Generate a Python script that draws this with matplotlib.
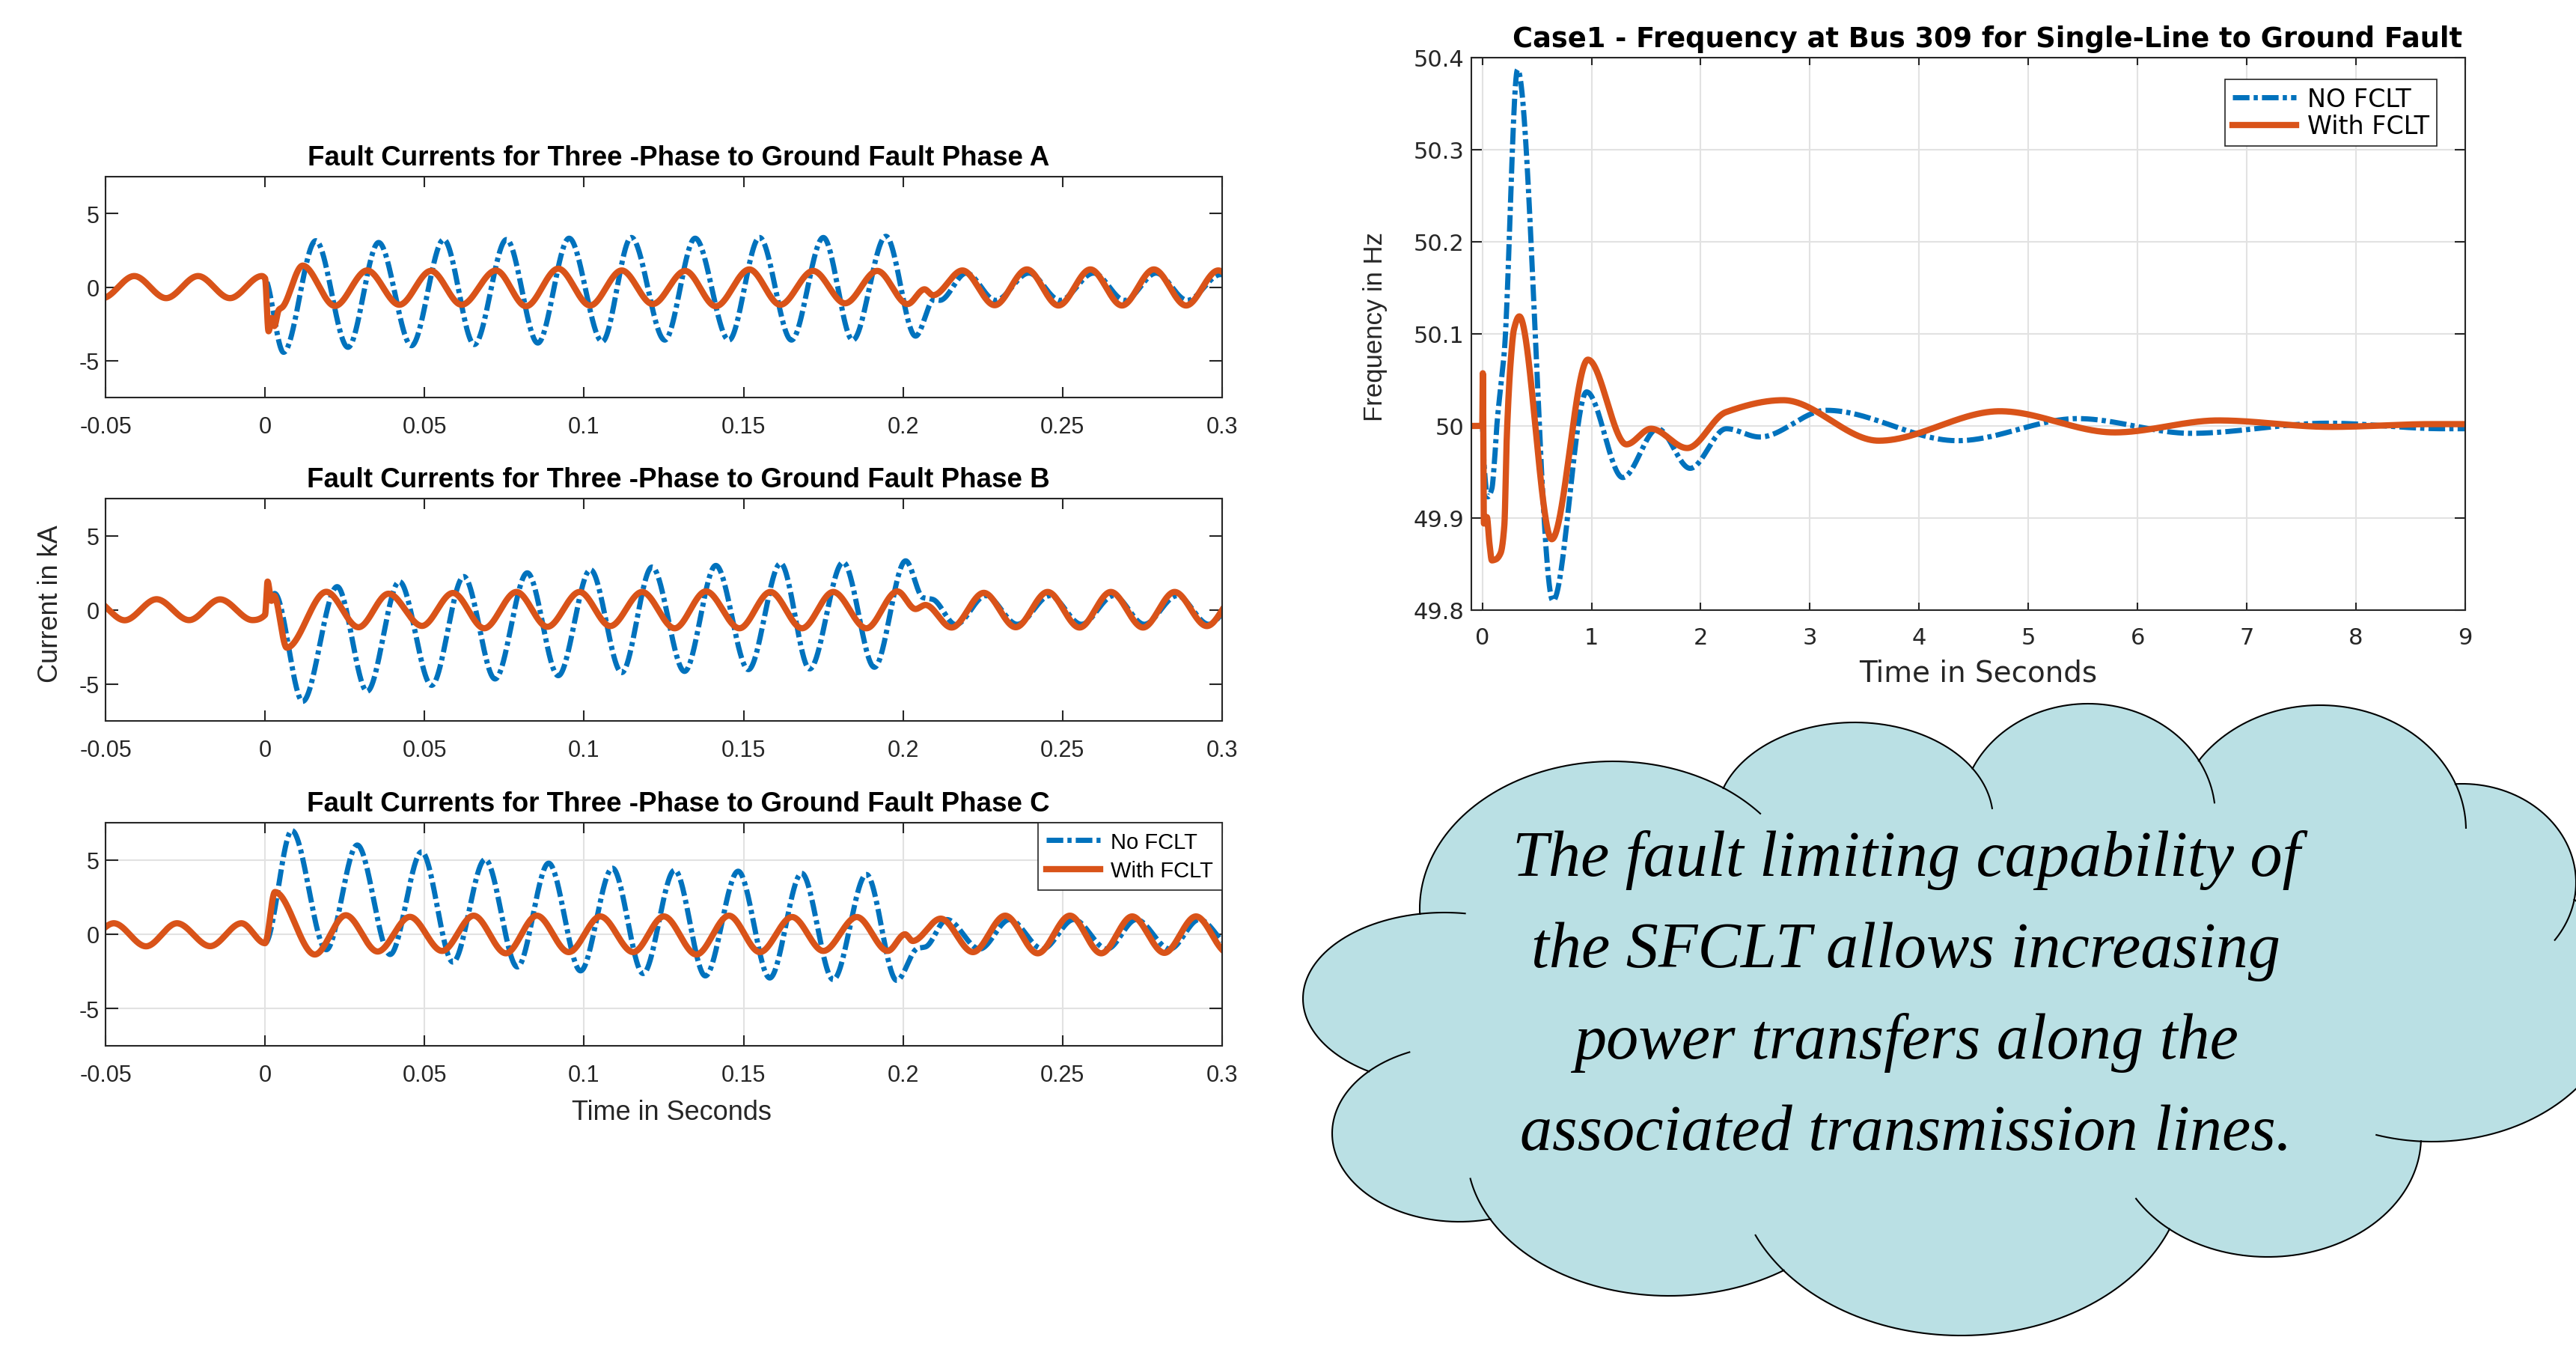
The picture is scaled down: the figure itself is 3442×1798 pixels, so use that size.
import numpy as np
import matplotlib
matplotlib.use("Agg")
import matplotlib.pyplot as plt
from matplotlib.patches import Ellipse

plt.rcParams['font.family'] = ['Liberation Sans', 'DejaVu Sans']
plt.rcParams['axes.unicode_minus'] = False
plt.rcParams['lines.scale_dashes'] = False

# ---- data (turning points of each trace) ----
x_ticks = [-0.05, 0, 0.05, 0.1, 0.15, 0.2, 0.25, 0.3]
x_tick_labels = ["-0.05", "0", "0.05", "0.1", "0.15", "0.2", "0.25", "0.3"]
y_ticks = [-5, 0, 5]
y_tick_labels = ["-5", "0", "5"]

# phase A
pre_a_t = [-0.061, -0.051, -0.041, -0.031, -0.021, -0.011, -0.001]
pre_a_i = [0.75, -0.75, 0.75, -0.75, 0.75, -0.75, 0.75]
no_a_t = [0.0, 0.0058, 0.0159, 0.026, 0.0356, 0.0459, 0.056, 0.0656, 0.0757, 0.0855,
          0.0953, 0.1057, 0.1148, 0.1253, 0.1348, 0.1454, 0.155, 0.165, 0.175, 0.1842,
          0.1946, 0.2039, 0.2097, 0.2115, 0.2198, 0.229, 0.2394, 0.2492, 0.2597, 0.2695,
          0.2793, 0.2891, 0.2995, 0.31]
no_a_i = [0.6, -4.43, 3.15, -4.09, 3.03, -3.98, 3.23, -3.9, 3.23, -3.8,
          3.32, -3.7, 3.37, -3.6, 3.32, -3.6, 3.37, -3.6, 3.37, -3.6,
          3.45, -3.33, -0.85, -0.9, 0.95, -0.9, 0.95, -0.9, 0.95, -0.9,
          0.95, -0.9, 0.85, -0.9]
with_a_t = [0.0, 0.0011, 0.0022, 0.0029, 0.0043, 0.0055, 0.0118, 0.0219, 0.032, 0.0421,
            0.052, 0.0616, 0.0724, 0.0818, 0.0919, 0.1019, 0.1118, 0.1215, 0.1317, 0.1413,
            0.1518, 0.1615, 0.1718, 0.1818, 0.1919, 0.2014, 0.2067, 0.2094, 0.2186, 0.2287,
            0.2388, 0.2487, 0.2587, 0.2686, 0.2786, 0.2887, 0.2988, 0.309]
with_a_i = [0.6, -3.0, -2.1, -2.65, -1.55, -1.35, 1.46, -1.28, 1.13, -1.2,
            1.1, -1.2, 1.13, -1.3, 1.25, -1.25, 1.13, -1.15, 1.1, -1.3,
            1.2, -1.2, 1.1, -1.1, 1.1, -1.15, -0.15, -0.55, 1.13, -1.23,
            1.2, -1.25, 1.2, -1.25, 1.2, -1.25, 1.13, -1.25]

# phase B
pre_b_t = [-0.054, -0.044, -0.034, -0.0238, -0.0141, -0.0039]
pre_b_i = [0.71, -0.71, 0.71, -0.7, 0.7, -0.7]
no_b_t = [0.0, 0.0008, 0.002, 0.003, 0.0118, 0.0226, 0.032, 0.0421, 0.0522, 0.0623,
          0.0721, 0.0822, 0.0919, 0.102, 0.1118, 0.1213, 0.1315, 0.1413, 0.1515, 0.1616,
          0.1707, 0.1812, 0.191, 0.2008, 0.2062, 0.2093, 0.2165, 0.2259, 0.2358, 0.246,
          0.2559, 0.266, 0.2756, 0.2859, 0.2958, 0.3058]
no_b_i = [-0.35, 1.5, 0.9, 1.1, -6.18, 1.56, -5.5, 1.9, -5.1, 2.24,
          -4.67, 2.49, -4.45, 2.7, -4.24, 2.88, -4.16, 2.99, -4.04, 3.13,
          -3.99, 3.2, -3.88, 3.3, 0.82, 0.7, -1.0, 0.95, -0.98, 0.95,
          -0.98, 0.95, -0.98, 0.95, -0.98, 1.0]
with_b_t = [0.0, 0.0008, 0.002, 0.0028, 0.0068, 0.0192, 0.0293, 0.0387, 0.0492, 0.0589,
            0.0687, 0.0788, 0.0885, 0.0986, 0.1082, 0.1182, 0.1284, 0.1382, 0.1487, 0.1584,
            0.1683, 0.1781, 0.1885, 0.1982, 0.2039, 0.207, 0.2152, 0.2253, 0.2353, 0.2453,
            0.2553, 0.2651, 0.2752, 0.2851, 0.2952, 0.3052]
with_b_i = [-0.35, 1.9, 0.6, 0.95, -2.56, 1.21, -1.18, 1.08, -1.09, 1.13,
            -1.25, 1.2, -1.15, 1.2, -1.1, 1.2, -1.25, 1.24, -1.25, 1.2,
            -1.25, 1.2, -1.25, 1.24, 0.05, 0.32, -1.2, 1.14, -1.18, 1.2,
            -1.2, 1.2, -1.2, 1.2, -1.1, 1.2]

# phase C
pre_c_t = [-0.0574, -0.0474, -0.0373, -0.0276, -0.0172, -0.0074]
pre_c_i = [-0.8, 0.74, -0.81, 0.74, -0.8, 0.74]
no_c_t = [0.0, 0.0084, 0.0192, 0.0289, 0.0392, 0.0491, 0.0589, 0.069, 0.0791, 0.0889,
          0.0989, 0.1089, 0.1185, 0.1284, 0.138, 0.1483, 0.1582, 0.1682, 0.1781, 0.1885,
          0.198, 0.2045, 0.207, 0.2137, 0.224, 0.2334, 0.2437, 0.2535, 0.2639, 0.2731,
          0.2836, 0.2928, 0.3036]
no_c_i = [-0.6, 6.97, -1.04, 6.0, -1.36, 5.54, -1.87, 5.03, -2.2, 4.78,
          -2.46, 4.44, -2.64, 4.31, -2.8, 4.24, -2.94, 4.1, -3.05, 4.02,
          -3.1, -0.95, -0.85, 0.99, -0.99, 0.99, -0.99, 0.99, -0.99, 0.99,
          -0.99, 0.99, -0.99]
with_c_t = [0.0, 0.0031, 0.0156, 0.0253, 0.0353, 0.0454, 0.0555, 0.0654, 0.0755, 0.0852,
            0.0952, 0.1051, 0.1154, 0.125, 0.1352, 0.1454, 0.1551, 0.1652, 0.175, 0.1855,
            0.1952, 0.2006, 0.203, 0.2118, 0.2219, 0.232, 0.2422, 0.2523, 0.2621, 0.2718,
            0.2819, 0.2918, 0.3018]
with_c_i = [-0.6, 2.84, -1.36, 1.28, -1.16, 1.17, -1.12, 1.25, -1.28, 1.25,
            -1.2, 1.2, -1.2, 1.2, -1.36, 1.25, -1.2, 1.16, -1.12, 1.16,
            -1.12, 0.0, -0.45, 1.05, -1.2, 1.25, -1.28, 1.25, -1.28, 1.2,
            -1.25, 1.2, -1.25]

# frequency at bus 309
f_no_t = [-0.1, 0.0, 0.015, 0.05, 0.088, 0.11, 0.133, 0.179, 0.202, 0.323,
          0.647, 0.955, 1.286, 1.606, 1.903, 2.234, 2.54, 3.15, 4.35, 5.45,
          6.49, 7.74, 8.8, 9.0]
f_no = [50.0, 50.0, 49.96, 49.923, 49.932, 49.959, 50.0, 50.054, 50.081, 50.387,
        49.81, 50.037, 49.944, 49.997, 49.954, 49.997, 49.988, 50.017, 49.984, 50.008,
        49.992, 50.003, 49.997, 49.997]
f_with_t = [-0.1, 0.0, 0.005, 0.015, 0.042, 0.065, 0.088, 0.122, 0.168, 0.202,
            0.225, 0.26, 0.29, 0.339, 0.636, 0.967, 1.32, 1.545, 1.876, 2.23,
            2.755, 3.63, 4.74, 5.79, 6.74, 7.77, 8.7, 9.0]
f_with = [50.0, 50.0, 50.058, 49.894, 49.901, 49.873, 49.854, 49.855, 49.862, 49.892,
          49.99, 50.07, 50.105, 50.119, 49.877, 50.072, 49.98, 49.997, 49.976, 50.015,
          50.028, 49.984, 50.016, 49.993, 50.006, 49.999, 50.002, 50.002]
f_x_ticks = list(range(10))
f_y_ticks = [49.8, 49.9, 50.0, 50.1, 50.2, 50.3, 50.4]
f_y_tick_labels = ["49.8", "49.9", "50", "50.1", "50.2", "50.3", "50.4"]

cloud_lines = ["The fault limiting capability of",
               "the SFCLT allows increasing",
               "power transfers along the",
               "associated transmission lines."]

BLUE = '#0072BD'
ORANGE = '#D95319'
AXC = '#262626'
W, H = 3442, 1799


def smooth(tk, vk, t):
    # monotone cubic through the turning points (flat at each extremum)
    tk = np.asarray(tk, float)
    vk = np.asarray(vk, float)
    h = np.diff(tk)
    d = np.diff(vk) / h
    m = np.zeros_like(vk)
    for k in range(1, len(tk) - 1):
        if d[k - 1] * d[k] > 0:
            w1 = 2 * h[k] + h[k - 1]
            w2 = h[k] + 2 * h[k - 1]
            m[k] = (w1 + w2) / (w1 / d[k - 1] + w2 / d[k])
    j = np.clip(np.searchsorted(tk, t) - 1, 0, len(h) - 1)
    s = (t - tk[j]) / h[j]
    return ((2 * s**3 - 3 * s**2 + 1) * vk[j] + (s**3 - 2 * s**2 + s) * h[j] * m[j]
            + (-2 * s**3 + 3 * s**2) * vk[j + 1] + (s**3 - s**2) * h[j] * m[j + 1])


def px_axes(fig, x0, y0, x1, y1):
    return fig.add_axes([x0 / W, 1 - y1 / H, (x1 - x0) / W, (y1 - y0) / H])


fig = plt.figure(figsize=(W / 100, H / 100), dpi=100)

# ---- cloud callout ----
ax0 = fig.add_axes([0, 0, 1, 1])
ax0.set_xlim(0, W)
ax0.set_ylim(H, 0)
ax0.axis('off')
bumps = [(2155, 1215, 258, 197), (2478, 1095, 185, 129), (2790, 1090, 170, 149),
         (3100, 1110, 195, 167), (3290, 1180, 152, 132), (3250, 1330, 250, 196),
         (3030, 1520, 205, 160), (2620, 1560, 300, 225), (2230, 1540, 270, 192),
         (1950, 1515, 170, 118), (1930, 1335, 189, 115)]
body = (2620, 1370, 680, 260)
fill = '#BAE0E4'
for cx, cy, a, b in bumps + [body]:
    ax0.add_patch(Ellipse((cx, cy), 2 * a, 2 * b, fc=fill, ec='none'))

th = np.linspace(0, 2 * np.pi, 2400, endpoint=False)
allshapes = bumps + [body]
for k, (cx, cy, a, b) in enumerate(bumps):
    x = cx + a * np.cos(th)
    y = cy + b * np.sin(th)
    hid = np.zeros_like(x, dtype=bool)
    for j, (ox, oy, oa, ob) in enumerate(allshapes):
        if j == k:
            continue
        hid |= ((x - ox) / oa) ** 2 + ((y - oy) / ob) ** 2 < 0.995
    xv = np.where(hid, np.nan, x)
    ax0.plot(np.append(xv, xv[0]), np.append(y, y[0]), color='black', lw=1.5)
    # short crease where this bump tucks under the next one
    seg = np.hypot(np.diff(np.append(x, x[0])), np.diff(np.append(y, y[0])))
    starts = np.where(~np.roll(hid, 1) & hid)[0]
    for s0 in starts:
        idx = [s0 - 1]
        L = 0.0
        i = s0
        while L < 60:
            idx.append(i % len(x))
            L += seg[i % len(x)]
            i += 1
        ax0.plot(x[idx], y[idx], color='black', lw=1.5)

for line, yb in zip(cloud_lines, [1170, 1292, 1414, 1536]):
    ax0.text(2547, yb, line, ha='center', va='baseline', fontsize=62,
             family='Liberation Serif', style='italic', color='black')

# ---- three fault current panels ----
panels = [
    ("Fault Currents for Three -Phase to Ground Fault Phase A",
     pre_a_t, pre_a_i, no_a_t, no_a_i, with_a_t, with_a_i, (141, 237, 1633, 532)),
    ("Fault Currents for Three -Phase to Ground Fault Phase B",
     pre_b_t, pre_b_i, no_b_t, no_b_i, with_b_t, with_b_i, (141, 667, 1633, 964)),
    ("Fault Currents for Three -Phase to Ground Fault Phase C",
     pre_c_t, pre_c_i, no_c_t, no_c_i, with_c_t, with_c_i, (141, 1100, 1633, 1398)),
]
tt = np.linspace(-0.06, 0.31, 9000)
dash_dot = (0, (16, 4, 4, 4))
for n, (title, pt, pi, nt, ni, wt, wi, box) in enumerate(panels):
    ax = px_axes(fig, *box)
    ax.plot(tt, smooth(pt + nt, pi + ni, tt), color=BLUE, lw=5, ls=dash_dot,
            label="No FCLT")
    ax.plot(tt, smooth(pt + wt, pi + wi, tt), color=ORANGE, lw=6, label="With FCLT")
    ax.set_xlim(-0.05, 0.3)
    ax.set_ylim(-7.5, 7.5)
    ax.set_xticks(x_ticks)
    ax.set_xticklabels(x_tick_labels)
    ax.set_yticks(y_ticks)
    ax.set_yticklabels(y_tick_labels)
    ax.tick_params(direction='in', top=True, right=True, labelsize=22,
                   color=AXC, labelcolor=AXC, width=1.5)
    ax.tick_params(axis='x', length=10, pad=17)
    ax.tick_params(axis='y', length=12, pad=6)
    for sp in ax.spines.values():
        sp.set_color(AXC)
        sp.set_linewidth(1.5)
    ax.set_title(title, fontsize=26.5, fontweight='bold', pad=11.5, x=0.513)
    if n == 1:
        ax.set_ylabel("Current in kA", fontsize=26, color=AXC)
        ax.yaxis.set_label_coords(-0.049, 0.529)
        ax.yaxis.label.set_va('center')
    if n == 2:
        ax.grid(True, color='#E2E2E2', lw=1.5)
        ax.set_axisbelow(True)
        ax.set_xlabel("Time in Seconds", fontsize=26, color=AXC)
        ax.xaxis.set_label_coords(0.507, -0.297)
        ax.xaxis.label.set_va('center')
        leg = ax.legend(loc='upper right', borderaxespad=0, fontsize=21, fancybox=False,
                        edgecolor=AXC, framealpha=1, handlelength=2.45,
                        handletextpad=0.5, borderpad=0.4, labelspacing=0.35)
        leg.get_frame().set_linewidth(1.2)

# ---- frequency panel ----
axf = px_axes(fig, 1966, 78, 3294, 816)
tf = np.linspace(-0.1, 9.0, 8000)
axf.plot(tf, smooth(f_no_t, f_no, tf), color=BLUE, lw=5, ls=dash_dot, label="NO FCLT")
axf.plot(tf, smooth(f_with_t, f_with, tf), color=ORANGE, lw=6, label="With FCLT")
axf.set_xlim(-0.1, 9)
axf.set_ylim(49.8, 50.4)
axf.set_xticks(f_x_ticks)
axf.set_xticklabels([str(v) for v in f_x_ticks], fontfamily='DejaVu Sans', fontsize=22)
axf.set_yticks(f_y_ticks)
axf.set_yticklabels(f_y_tick_labels, fontfamily='DejaVu Sans', fontsize=22)
axf.tick_params(direction='in', top=True, right=True, color=AXC, labelcolor=AXC, width=1.5)
axf.tick_params(axis='x', length=7, pad=16)
axf.tick_params(axis='y', length=10, pad=7)
for sp in axf.spines.values():
    sp.set_color(AXC)
    sp.set_linewidth(1.5)
axf.grid(True, color='#E2E2E2', lw=1.5)
axf.set_axisbelow(True)
axf.set_title("Case1 - Frequency at Bus 309 for Single-Line to Ground Fault",
              fontsize=26.5, fontweight='bold', fontfamily='DejaVu Sans', pad=10.5, x=0.519)
axf.set_xlabel("Time in Seconds", fontsize=28, fontfamily='DejaVu Sans', color=AXC)
axf.xaxis.set_label_coords(0.51, -0.113)
axf.xaxis.label.set_va('center')
axf.set_ylabel("Frequency in Hz", fontsize=25, color=AXC)
axf.yaxis.set_label_coords(-0.0964, 0.5136)
axf.yaxis.label.set_va('center')
leg = axf.legend(loc='upper right', bbox_to_anchor=(0.9714, 0.9607), borderaxespad=0,
                 prop={'family': 'DejaVu Sans', 'size': 24}, fancybox=False,
                 edgecolor=AXC, framealpha=1, handlelength=2.55, handletextpad=0.45,
                 borderpad=0.3, labelspacing=0.1)
leg.get_frame().set_linewidth(1.2)

fig.savefig("out.png", dpi=100)
